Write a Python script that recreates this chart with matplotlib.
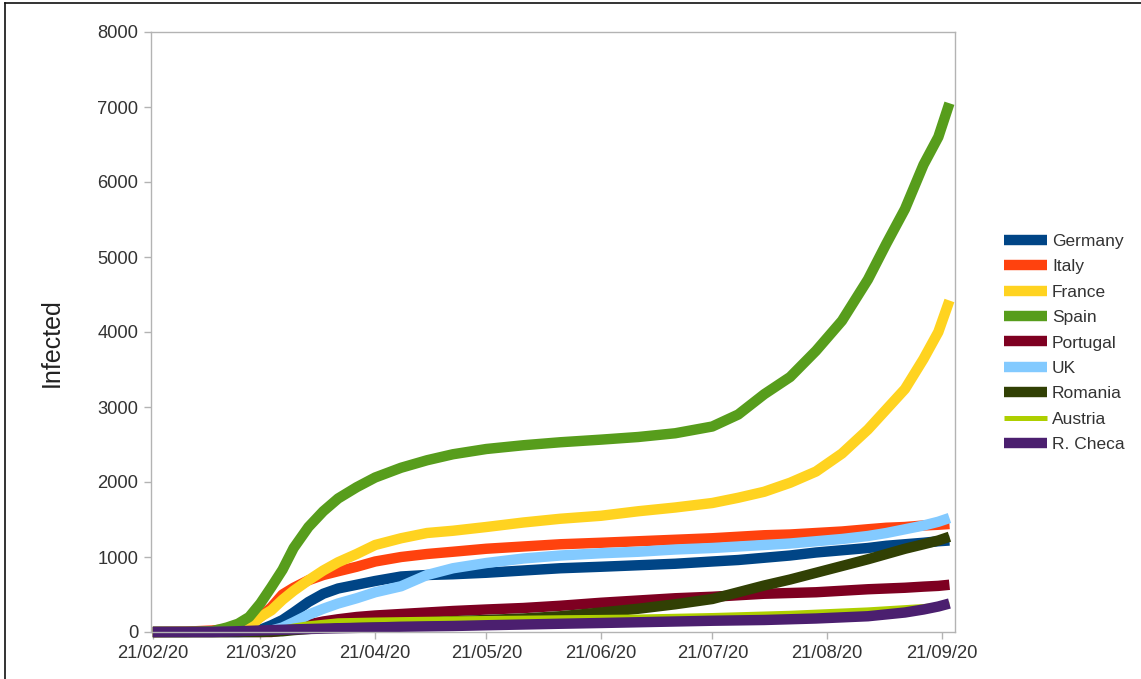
import matplotlib
matplotlib.use("Agg")
import matplotlib.pyplot as plt
from matplotlib.lines import Line2D
import pandas as pd

plt.rcParams['font.family'] = ['Liberation Sans', 'DejaVu Sans']

# Day offsets from 21/02/2020
days = [0, 9, 16, 20, 23, 26, 29, 32, 35, 38, 42, 46, 50, 55, 60, 67, 74, 81, 90,
        100, 110, 121, 131, 141, 151, 158, 165, 172, 179, 186, 193, 198, 203, 208, 212, 215]

germany = [0, 0, 0, 0, 0, 5, 30, 90, 160, 260, 400, 510, 580, 630, 680, 740, 760, 770, 790,
           820, 850, 870, 890, 910, 940, 960, 990, 1020, 1060, 1090, 1120, 1150, 1170, 1190, 1210, 1220]
italy = [0, 5, 20, 40, 70, 120, 200, 330, 500, 590, 690, 760, 810, 870, 940, 1000, 1040, 1070, 1110,
         1140, 1170, 1190, 1210, 1230, 1250, 1270, 1290, 1300, 1320, 1340, 1370, 1390, 1400, 1420, 1430, 1440]
france = [0, 0, 0, 0, 10, 60, 200, 290, 430, 550, 690, 820, 930, 1040, 1160, 1250, 1320, 1350, 1400,
          1460, 1510, 1550, 1610, 1660, 1720, 1790, 1870, 1990, 2140, 2380, 2700, 2970, 3240, 3640, 4000, 4420]
spain = [0, 0, 10, 60, 110, 200, 380, 600, 830, 1120, 1400, 1610, 1780, 1930, 2060, 2190, 2290, 2370, 2440,
         2490, 2530, 2565, 2600, 2650, 2740, 2900, 3170, 3400, 3750, 4150, 4700, 5180, 5640, 6230, 6600, 7050]
portugal = [0, 0, 0, 0, 0, 0, 0, 0, 20, 60, 100, 140, 170, 200, 220, 240, 260, 280, 300,
            320, 350, 390, 420, 450, 470, 490, 510, 520, 530, 550, 570, 580, 590, 605, 615, 630]
uk = [0, 0, 0, 0, 0, 0, 5, 20, 60, 130, 230, 310, 380, 450, 530, 610, 760, 850, 920,
      980, 1020, 1050, 1070, 1100, 1120, 1140, 1160, 1180, 1210, 1240, 1280, 1320, 1370, 1420, 1470, 1520]
romania = [0, 0, 0, 0, 0, 0, 0, 5, 10, 25, 40, 55, 70, 85, 100, 115, 130, 145, 160,
           180, 210, 260, 310, 370, 440, 530, 620, 700, 790, 880, 970, 1040, 1110, 1170, 1220, 1270]
austria = [0, 0, 0, 0, 0, 0, 5, 20, 50, 80, 110, 130, 150, 155, 160, 165, 170, 175, 180,
           185, 190, 195, 200, 210, 220, 230, 240, 250, 265, 280, 295, 310, 325, 340, 355, 370]
checa = [0, 0, 0, 5, 10, 15, 20, 25, 30, 35, 40, 45, 50, 55, 60, 70, 75, 80, 90,
         100, 110, 120, 130, 140, 150, 155, 160, 170, 180, 195, 210, 235, 260, 300, 340, 380]

names = ['Germany', 'Italy', 'France', 'Spain', 'Portugal', 'UK', 'Romania', 'Austria', 'R. Checa']
series = [germany, italy, france, spain, portugal, uk, romania, austria, checa]
colors = ['#004586', '#ff420e', '#ffd320', '#579d1c', '#7e0021', '#83caff', '#314004', '#aecf00', '#4b1f6f']
widths = [7.5, 7.5, 7.5, 7.5, 7.5, 7.5, 7.5, 3.6, 7.5]
tick_labels = ['21/02/20', '21/03/20', '21/04/20', '21/05/20', '21/06/20', '21/07/20', '21/08/20', '21/09/20']

start = pd.Timestamp('2020-02-21')
dates = [start + pd.Timedelta(days=d) for d in days]

fig = plt.figure(figsize=(11.41, 6.79), dpi=100)
ax = fig.add_axes([151/1141, 1 - 632/679, (955 - 151)/1141, (632 - 32)/679])

handles = []
for name, vals, c, w in zip(names, series, colors, widths):
    ln, = ax.plot(dates, vals, color=c, lw=w, solid_capstyle='butt', solid_joinstyle='round',
                  label=name, clip_on=False)
    handles.append(ln)

ax.set_ylim(0, 8000)
ax.set_xlim(start - pd.Timedelta(days=0.5), start + pd.Timedelta(days=216.5))
ax.set_yticks(range(0, 8001, 1000))
ticks = [pd.Timestamp(f'2020-{m:02d}-21') for m in range(2, 10)]
ax.set_xticks(ticks)
ax.set_xticklabels(tick_labels)

for s in ax.spines.values():
    s.set_color('#b3b3b3')
    s.set_linewidth(1.0)
ax.tick_params(axis='both', colors='#b3b3b3', labelcolor='#333333', labelsize=13.2, length=5, width=1)
ax.tick_params(axis='x', pad=4)
ax.tick_params(axis='y', pad=4)
ax.set_ylabel('Infected', fontsize=18, color='#222222')
ax.yaxis.set_label_coords(-0.108, 0.483)

leg = fig.legend(handles=handles, loc='center left', bbox_to_anchor=(1004/1141, 1 - 343/679),
                 frameon=False, fontsize=12.5, handlelength=2.47, labelspacing=0.59,
                 handletextpad=0.3, borderaxespad=0, borderpad=0)
for t in leg.get_texts():
    t.set_color('#333333')

# figure border (left and top)
fig.add_artist(Line2D([5/1141, 5/1141], [0, 1 - 3/679], transform=fig.transFigure, color='#111111', lw=1.2))
fig.add_artist(Line2D([5/1141, 1], [1 - 3/679, 1 - 3/679], transform=fig.transFigure, color='#111111', lw=1.2))

fig.savefig('out.png', dpi=100)
